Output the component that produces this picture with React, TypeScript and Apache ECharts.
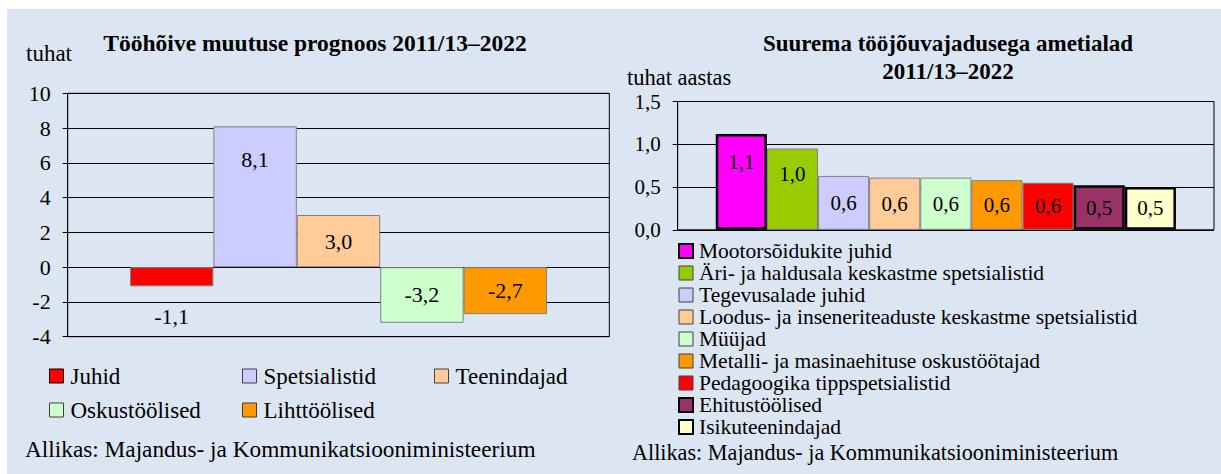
import React, { useEffect, useRef } from 'react';
import * as echarts from 'echarts';

// ---- data ----
const leftNames = ['Juhid', 'Spetsialistid', 'Teenindajad', 'Oskustöölised', 'Lihttöölised'];
const leftValues = [-1.1, 8.1, 3.0, -3.2, -2.7];
const leftColors = ['#FF0000', '#CCCCFF', '#FFCC99', '#CCFFCC', '#FF9900'];

const rightNames = [
  'Mootorsõidukite juhid',
  'Äri- ja haldusala keskastme spetsialistid',
  'Tegevusalade juhid',
  'Loodus- ja inseneriteaduste keskastme spetsialistid',
  'Müüjad',
  'Metalli- ja masinaehituse oskustöötajad',
  'Pedagoogika tippspetsialistid',
  'Ehitustöölised',
  'Isikuteenindajad',
];
const rightValues = [1.12, 0.95, 0.63, 0.61, 0.61, 0.58, 0.55, 0.52, 0.5];
const rightColors = ['#FF00FF', '#99CC00', '#CCCCFF', '#FFCC99', '#CCFFCC', '#FF9900', '#FF0000', '#993366', '#FFFFCC'];

const leftTitle = 'Tööhõive muutuse prognoos 2011/13–2022';
const rightTitle = 'Suurema tööjõuvajadusega ametialad\n2011/13–2022';
const leftUnit = 'tuhat';
const rightUnit = 'tuhat aastas';
const source = 'Allikas: Majandus- ja Kommunikatsiooniministeerium';

// ---- styles ----
const FONT = '"Liberation Serif", "Times New Roman", serif';
const leftLabelOffsets = [40, -37, 0, 0, 0];
const rightLabelOffsets = [-20, -15, 0, 0, 0, 0, 0, 0, 0];
const rightThick = [true, false, false, false, false, false, false, true, true];
const leftLegendPos = [
  [42, 355],
  [235, 355],
  [427, 355],
  [42, 389],
  [235, 389],
];

const fmt = (v: number) => (Math.round(v * 10) / 10).toFixed(1).replace('.', ',');

function buildOption() {
  const leftLegendText = { fontSize: 23, lineHeight: 24, fontFamily: FONT, color: '#000', padding: [0, 0, 0, 2] };
  const rightLegendText = { fontSize: 21.5, lineHeight: 22, fontFamily: FONT, color: '#000', padding: [0, 0, 0, 1] };

  const leftSeries = leftNames.map((name, i) => ({
    type: 'bar',
    name,
    xAxisIndex: 0,
    yAxisIndex: 0,
    data: [leftValues[i]],
    barGap: '0%',
    barCategoryGap: '23%',
    itemStyle: { color: leftColors[i], borderColor: '#808080', borderWidth: 1 },
    label: {
      show: true,
      position: 'inside',
      offset: [0, leftLabelOffsets[i]],
      formatter: (p: any) => fmt(p.value),
      color: '#000',
      fontSize: 22,
      fontFamily: FONT,
    },
  }));

  const rightSeries = rightNames.map((name, i) => ({
    type: 'bar',
    name,
    xAxisIndex: 1,
    yAxisIndex: 1,
    data: [rightValues[i]],
    barGap: '0%',
    barCategoryGap: '14.2%',
    itemStyle: {
      color: rightColors[i],
      borderColor: rightThick[i] ? '#000' : '#808080',
      borderWidth: rightThick[i] ? 2.5 : 1,
    },
    label: {
      show: true,
      position: 'inside',
      offset: [0, rightLabelOffsets[i]],
      formatter: (p: any) => fmt(p.value),
      color: '#000',
      fontSize: 21,
      fontFamily: FONT,
    },
  }));

  const leftLegends = leftNames.map((name, i) => ({
    show: true,
    selectedMode: false,
    left: leftLegendPos[i][0],
    top: leftLegendPos[i][1],
    padding: 0,
    itemWidth: 14,
    itemHeight: 14,
    icon: 'rect',
    textStyle: leftLegendText,
    data: [
      {
        name,
        itemStyle: { borderColor: i === 0 ? '#000' : '#404040', borderWidth: 1 },
      },
    ],
  }));

  const rightLegend = {
    show: true,
    selectedMode: false,
    orient: 'vertical',
    left: 671,
    top: 231,
    padding: 0,
    itemGap: 0,
    itemWidth: 14,
    itemHeight: 14,
    icon: 'rect',
    textStyle: rightLegendText,
    data: rightNames.map((name, i) => ({
      name,
      itemStyle: {
        borderColor: rightThick[i] ? '#000' : '#404040',
        borderWidth: rightThick[i] ? 2 : 1,
      },
    })),
  };

  const yAxisCommon = {
    type: 'value',
    axisLine: { show: true, lineStyle: { color: '#000', width: 1 } },
    axisTick: { show: true, length: 5, inside: false, lineStyle: { color: '#000' } },
    splitLine: { show: true, lineStyle: { color: '#000', width: 1 } },
    axisLabel: { color: '#000', fontSize: 21, fontFamily: FONT, margin: 17 },
  };

  const text = (t: string, x: number, y: number, opts: any = {}) => ({
    type: 'text',
    x,
    y,
    silent: true,
    style: {
      text: t,
      fill: '#000',
      fontSize: 22,
      fontFamily: FONT,
      align: 'left',
      verticalAlign: 'middle',
      ...opts,
    },
  });

  return {
    animation: false,
    backgroundColor: '#DCE6F2',
    grid: [
      { left: 60.7, top: 84.3, width: 541.6, height: 243.4, show: true, borderColor: '#000', borderWidth: 1, backgroundColor: 'transparent' },
      { left: 670.7, top: 92.5, width: 536.3, height: 128.3, show: true, borderColor: '#000', borderWidth: 1, backgroundColor: 'transparent' },
    ],
    xAxis: [
      { type: 'category', gridIndex: 0, data: [''], show: false },
      { type: 'category', gridIndex: 1, data: [''], show: false },
    ],
    yAxis: [
      { ...yAxisCommon, gridIndex: 0, min: -4, max: 10, interval: 2, axisLabel: { ...yAxisCommon.axisLabel, fontSize: 22, formatter: (v: number) => String(v) } },
      { ...yAxisCommon, gridIndex: 1, min: 0, max: 1.5, interval: 0.5, axisLabel: { ...yAxisCommon.axisLabel, formatter: (v: number) => v.toFixed(1).replace('.', ',') } },
    ],
    legend: [...leftLegends, rightLegend],
    series: [...leftSeries, ...rightSeries],
    graphic: [
      text(leftTitle, 308, 34, { align: 'center', fontWeight: 'bold', fontSize: 23.5 }),
      text(leftUnit, 19, 44, { fontSize: 23 }),
      text(rightTitle, 941, 48.4, { align: 'center', fontWeight: 'bold', fontSize: 23, lineHeight: 28.7 }),
      text(rightUnit, 620, 68.5, { fontSize: 22.5 }),
      text(source, 18, 440, { fontSize: 23.3 }),
      text(source, 625, 443, { fontSize: 22.2 }),
    ],
  };
}

export default function App() {
  const ref = useRef<HTMLDivElement>(null);
  useEffect(() => {
    const chart = echarts.init(ref.current!, null, { renderer: 'svg' });
    chart.setOption(buildOption() as any);
    return () => chart.dispose();
  }, []);
  return (
    <div
      ref={ref}
      style={{ position: 'absolute', left: 7, top: 9, width: 1214, height: 465 }}
    />
  );
}
